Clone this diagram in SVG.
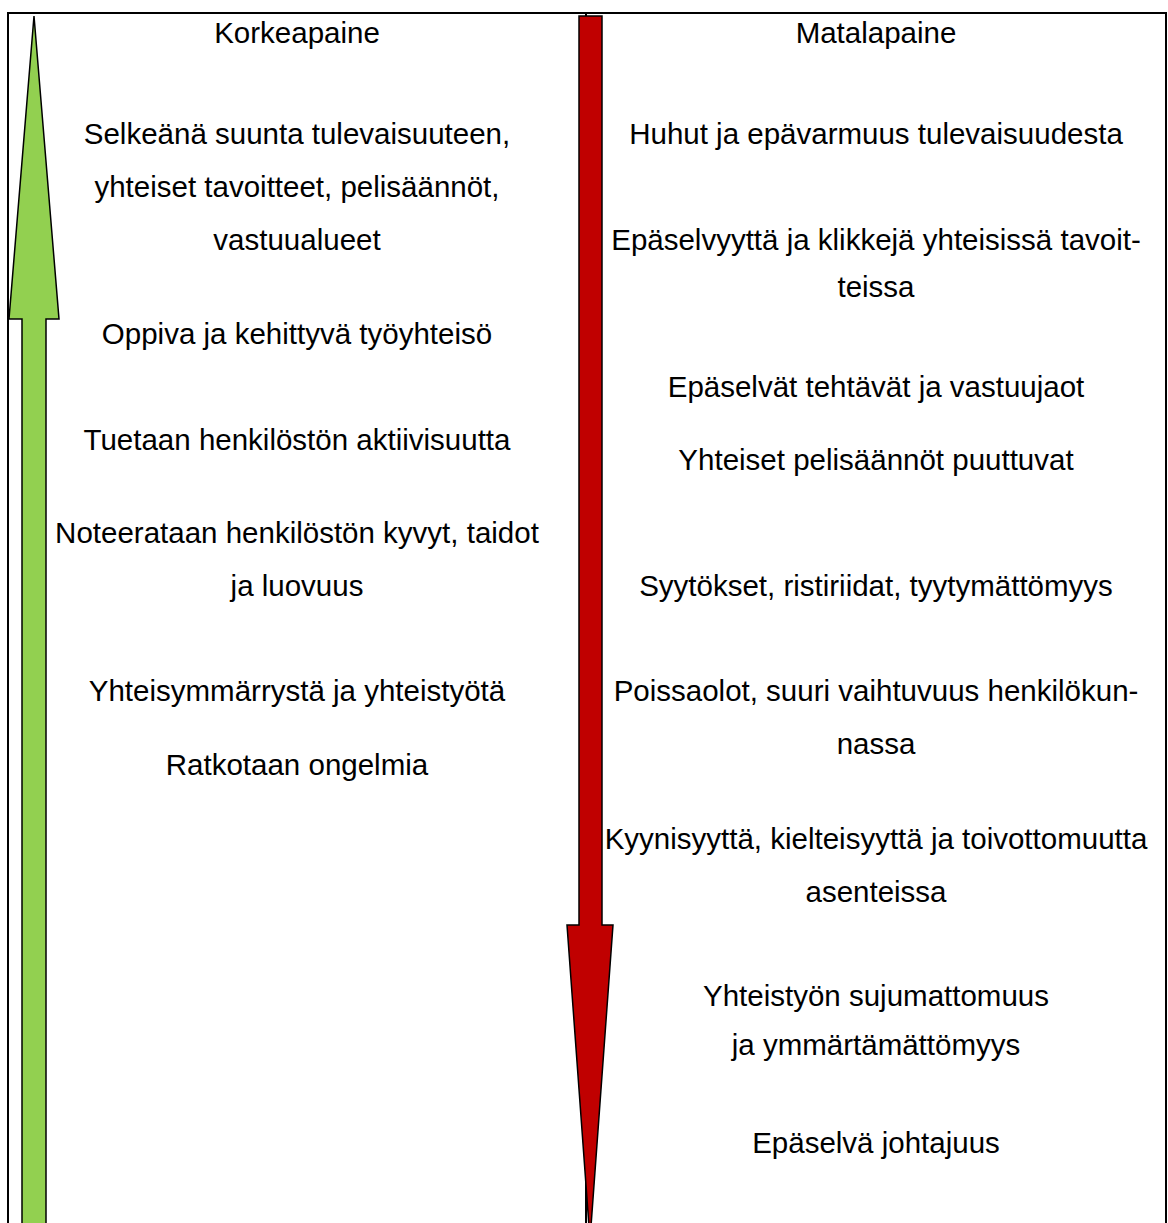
<svg xmlns="http://www.w3.org/2000/svg" width="1168" height="1223" viewBox="0 0 1168 1223">
<style>
.t{font-family:"Liberation Sans",Arial,sans-serif;font-size:29.5px;fill:#000;text-anchor:middle}
.grid{stroke:#000;stroke-width:2;fill:none}
.arrow{stroke:#000;stroke-width:1.5;stroke-linejoin:miter}
</style>
<rect width="1168" height="1223" fill="#fff"/>
<g id="table">
<line class="grid" x1="7" y1="13" x2="1167" y2="13"/>
<line class="grid" x1="8" y1="12" x2="8" y2="1223"/>
<line class="grid" x1="586" y1="13" x2="586" y2="1223"/>
<line class="grid" x1="1166" y1="12" x2="1166" y2="1223"/>
</g>
<g id="green-arrow">
<polygon class="arrow" fill="#92D050" points="34,16 59,319 46,319 46,1240 22,1240 22,319 9,319"/>
</g>
<g id="red-arrow">
<polygon class="arrow" fill="#C00000" points="579,16 602,16 602,925 613,925 590,1240 567,925 579,925"/>
</g>
<g id="left-column">
<text class="t" x="297" y="43">Korkeapaine</text>
<text class="t" x="297" y="144">Selkeänä suunta tulevaisuuteen,</text>
<text class="t" x="297" y="197">yhteiset tavoitteet, pelisäännöt,</text>
<text class="t" x="297" y="250">vastuualueet</text>
<text class="t" x="297" y="344">Oppiva ja kehittyvä työyhteisö</text>
<text class="t" x="297" y="450">Tuetaan henkilöstön aktiivisuutta</text>
<text class="t" x="297" y="543">Noteerataan henkilöstön kyvyt, taidot</text>
<text class="t" x="297" y="596">ja luovuus</text>
<text class="t" x="297" y="701">Yhteisymmärrystä ja yhteistyötä</text>
<text class="t" x="297" y="775">Ratkotaan ongelmia</text>
</g>
<g id="right-column">
<text class="t" x="876" y="43">Matalapaine</text>
<text class="t" x="876" y="144">Huhut ja epävarmuus tulevaisuudesta</text>
<text class="t" x="876" y="250">Epäselvyyttä ja klikkejä yhteisissä tavoit-</text>
<text class="t" x="876" y="297">teissa</text>
<text class="t" x="876" y="397">Epäselvät tehtävät ja vastuujaot</text>
<text class="t" x="876" y="470">Yhteiset pelisäännöt puuttuvat</text>
<text class="t" x="876" y="596">Syytökset, ristiriidat, tyytymättömyys</text>
<text class="t" x="876" y="701">Poissaolot, suuri vaihtuvuus henkilökun-</text>
<text class="t" x="876" y="754">nassa</text>
<text class="t" x="876" y="849">Kyynisyyttä, kielteisyyttä ja toivottomuutta</text>
<text class="t" x="876" y="902">asenteissa</text>
<text class="t" x="876" y="1006">Yhteistyön sujumattomuus</text>
<text class="t" x="876" y="1055">ja ymmärtämättömyys</text>
<text class="t" x="876" y="1153">Epäselvä johtajuus</text>
</g>
</svg>
